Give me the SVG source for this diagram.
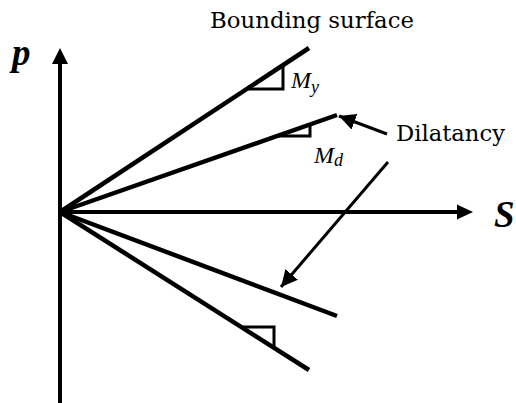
<svg xmlns="http://www.w3.org/2000/svg" width="516" height="403" viewBox="0 0 516 403">
<defs>
<style>
.axis{stroke:#000;stroke-width:4;fill:none}
.ray{stroke:#000;stroke-width:4.5;fill:none;stroke-linecap:butt}
.tri{stroke:#000;stroke-width:3;fill:none}
.ptr{stroke:#000;stroke-width:3;fill:none}
.lbl{font-family:"DejaVu Serif",serif;fill:#000}
.math{font-family:"Liberation Serif","Times New Roman",serif;font-style:italic;fill:#000}
.big{font-family:"Liberation Serif","Times New Roman",serif;font-style:italic;font-weight:bold;fill:#000}
</style>
<marker id="ah" viewBox="0 0 10 10" refX="10" refY="5" markerWidth="5.5" markerHeight="5.5" orient="auto" markerUnits="strokeWidth">
<path d="M0,0 L10,5 L0,10 z" fill="#000"/>
</marker>
</defs>
<rect width="516" height="403" fill="#fff"/>
<g id="axes">
<line class="axis" x1="60" y1="403" x2="60" y2="62"/>
<polygon points="60,48 52,64 68,64" fill="#000"/>
<line class="axis" x1="58" y1="212" x2="458" y2="212"/>
<polygon points="473,212 457,204.5 457,219.5" fill="#000"/>
<text class="big" x="12" y="65" font-size="37">p</text>
<text class="big" x="494" y="227" font-size="37">S</text>
</g>
<g id="bounding-upper">
<line class="ray" x1="60" y1="212" x2="309" y2="48"/>
<polyline class="tri" points="246,89 283,89 283,65"/>
<text class="math" x="291" y="88" font-size="24">M<tspan font-size="18" dy="5">y</tspan></text>
</g>
<g id="dilatancy-upper">
<line class="ray" x1="60" y1="212" x2="337" y2="115"/>
<polyline class="tri" points="278,136 310,136 310,125"/>
<text class="math" x="314" y="163" font-size="24">M<tspan font-size="18" dy="3">d</tspan></text>
</g>
<g id="dilatancy-lower">
<line class="ray" x1="60" y1="212" x2="337" y2="316"/>
</g>
<g id="bounding-lower">
<line class="ray" x1="60" y1="212" x2="309" y2="370"/>
<polyline class="tri" points="243,327 274,327 274,347"/>
</g>
<g id="labels">
<text class="lbl" x="210" y="28" font-size="22.5" textLength="204" lengthAdjust="spacingAndGlyphs">Bounding surface</text>
<text class="lbl" x="396" y="141" font-size="22.5" textLength="109" lengthAdjust="spacingAndGlyphs">Dilatancy</text>
</g>
<g id="connectors">
<line class="ptr" x1="387" y1="134" x2="339" y2="116" marker-end="url(#ah)"/>
<line class="ptr" stroke-width="2.5" x1="388" y1="162" x2="281" y2="287" marker-end="url(#ah)"/>
</g>
</svg>
